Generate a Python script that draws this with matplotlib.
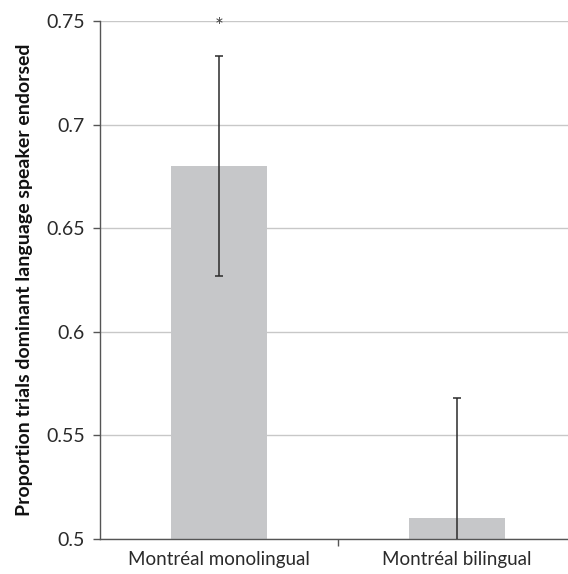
import matplotlib
matplotlib.use("Agg")
import matplotlib.pyplot as plt
import matplotlib.transforms as mtrans
import numpy as np

categories = ["Montréal monolingual", "Montréal bilingual"]
means = [0.680, 0.510]
err_upper = [0.733, 0.568]
err_lower = [0.627, 0.452]
yticks = [0.5, 0.55, 0.6, 0.65, 0.7, 0.75]
ytick_labels = ["0.5", "0.55", "0.6", "0.65", "0.7", "0.75"]

plt.rcParams['font.family'] = ['Lato', 'DejaVu Sans']

fig = plt.figure(figsize=(5.68, 5.74), dpi=100)
ax = fig.add_axes([100/568, (574-539)/574, (576-100)/568, (539-21)/574])

x = np.arange(len(categories))
means_a = np.array(means)
yerr = np.array([means_a - np.array(err_lower), np.array(err_upper) - means_a])
ax.bar(x, means_a - 0.5, bottom=0.5, width=0.4, color="#c6c7c9", zorder=2)
ax.errorbar(x, means_a, yerr=yerr, fmt="none", ecolor="#2b2b2b", elinewidth=1.1,
            capsize=2.7, capthick=1.1, zorder=3, clip_on=True)

ax.set_xlim(-0.5, 1.5)
ax.set_ylim(0.5, 0.75)
ax.set_yticks(yticks)
ax.set_yticklabels(ytick_labels, fontsize=14, color="#2a2a2a")
ax.set_xticks(x)
ax.set_xticklabels(categories, fontsize=13.5, color="#2a2a2a")
ax.set_xticks([0.5], minor=True)
ax.tick_params(axis="x", which="major", length=0, pad=9)
ax.tick_params(axis="x", which="minor", length=5, color="#555555", width=1)
ax.tick_params(axis="y", length=5, color="#555555", width=1, pad=6)

ax.grid(axis="y", color="#c8c8c8", linewidth=1, zorder=0)
ax.set_axisbelow(True)
for s in ["top", "right"]:
    ax.spines[s].set_visible(False)
for s in ["left", "bottom"]:
    ax.spines[s].set_color("#555555")
    ax.spines[s].set_linewidth(1)

ax.text(0, 0.75, "*", ha="center", va="center", fontsize=15, color="#444444",
        clip_on=False,
        transform=ax.transData + mtrans.ScaledTranslation(0, -4/72, fig.dpi_scale_trans))

ax.set_ylabel("Proportion trials dominant language speaker endorsed", fontsize=14,
              fontweight="bold", color="#111111", labelpad=9)

fig.savefig("out.png", dpi=100)
